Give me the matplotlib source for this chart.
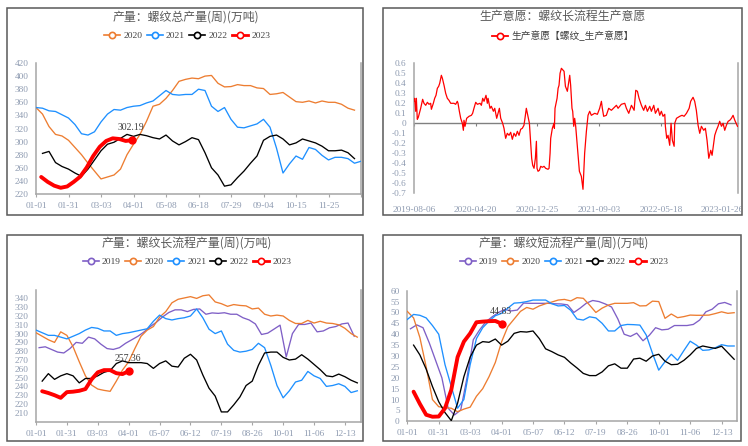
import numpy as np
import matplotlib
matplotlib.use('Agg')
import matplotlib.pyplot as plt
from matplotlib.lines import Line2D
from matplotlib.patches import Rectangle
from matplotlib.transforms import Bbox, TransformedBbox

plt.rcParams['font.family'] = ['Liberation Serif', 'Noto Sans CJK SC', 'DejaVu Sans']
CJK = ['Noto Sans CJK SC', 'DejaVu Sans']

W, H = 748, 446
fig = plt.figure(figsize=(W / 100, H / 100), dpi=100)
fig.patch.set_facecolor('white')

C19, C20, C21, C22, C23 = '#7f5fc6', '#ed7d31', '#1e90ff', '#000000', '#ff0000'
TICK = '#8d9ab0'
SPINE = '#a6a6a6'
TITLE = '#595959'
LEG = '#404040'

# ---------------- data: panel 1 (螺纹总产量) ----------------
p1_title = '产量：螺纹总产量(周)(万吨)'
p1_xlabels = ['01-01', '01-31', '03-03', '04-01', '05-08', '06-18', '07-29', '09-04', '10-15', '11-25', '']
p1_years = ['2020', '2021', '2022', '2023']
p1_2020 = [352, 342, 323, 311, 308.6, 302, 291, 280, 267, 255,
           243, 246, 249, 258, 280, 296, 311, 331, 354, 357,
           366, 378, 392, 395, 397, 396, 400, 401, 389, 383.5,
           384, 387, 385.5, 385.5, 382, 381, 372, 373, 375, 368,
           361, 360, 362, 359, 362, 360, 360, 357, 351, 348]
p1_2021 = [352, 351, 347, 346, 341, 336, 326, 312, 310, 315,
           330, 342, 349, 348, 352, 354, 355, 359, 362, 370,
           378, 372, 371, 372, 372, 380, 378, 354, 346, 352,
           334, 322, 321, 324, 327, 334, 322, 290, 252, 266,
           278, 273, 291, 288, 279, 272, 276, 276, 274, 267, 270]
p1_2022 = [282, 285, 268, 262, 258, 252, 247, 258, 272, 286,
           296, 299, 305, 311, 308, 311, 309, 306, 304, 310,
           301, 295, 300, 306, 303, 283, 260, 249, 232, 234,
           245, 255, 267, 278, 302, 308, 310, 304, 295, 298,
           304, 301, 298, 293, 286, 286, 287, 283, 274]
p1_2023 = [246, 238.5, 232.7, 229.5, 231.5, 238.5, 246.5, 260.5, 278, 292,
           301, 305, 304, 301, 302.19]
p1_start = {'2020': 0, '2021': 0, '2022': 1, '2023': 0.8}

# ---------------- data: panel 2 (生产意愿) ----------------
p2_title = '生产意愿：螺纹长流程生产意愿'
p2_label = '生产意愿【螺纹_生产意愿】'
p2_xlabels = ['2019-08-06', '2020-04-20', '2020-12-25', '2021-09-03', '2022-05-18', '2023-01-26']
p2_points = [
    (0, 0.22), (0.65, 0.25), (1.6, 0.12), (2.3, 0.25), (3.2, 0.04), (4.2, 0.06), (5.2, 0.10),
    (6.5, 0.15), (7.5, 0.20), (8.4, 0.24), (9.7, 0.20), (11.4, 0.18), (13.0, 0.21), (14.6, 0.19),
    (16.2, 0.20), (16.9, 0.14), (18.8, 0.20), (20.1, 0.25), (21.4, 0.28), (22.7, 0.35), (24.0, 0.37),
    (25.0, 0.40), (26.6, 0.48), (27.6, 0.45), (29.2, 0.38), (30.8, 0.30), (32.4, 0.25), (34.0, 0.23),
    (35.7, 0.20), (38.9, 0.20), (40.5, 0.19), (42.1, 0.22), (42.8, 0.20), (44.1, 0.12), (45.4, 0.05),
    (47.0, 0.00), (48.0, -0.07), (48.6, 0.03), (49.6, -0.03), (51.2, 0.05), (53.5, 0.07), (55.8, 0.08),
    (57.0, 0.10), (58.3, 0.15), (60.0, 0.21), (61.6, 0.19), (64.2, 0.20), (65.5, 0.18), (66.8, 0.25),
    (68.1, 0.22), (70.0, 0.28), (71.3, 0.20), (72.0, 0.25), (73.9, 0.15), (75.2, 0.17), (77.2, 0.12),
    (78.5, 0.15), (80.4, 0.05), (81.7, 0.10), (83.0, 0.15), (84.3, 0.05), (86.2, 0.00), (87.5, -0.05),
    (89.1, -0.15), (90.7, -0.10), (92.4, -0.12), (94.0, -0.09), (95.6, -0.16), (97.2, -0.10),
    (98.9, -0.13), (100.5, -0.08), (102.1, -0.12), (103.7, -0.06), (105.3, -0.05), (106.9, -0.02),
    (107.9, 0.05), (109.2, 0.15), (110.2, 0.10), (111.2, 0.05), (112.2, 0.00), (112.8, -0.10),
    (113.5, -0.20), (114.4, -0.35), (115.4, -0.42), (116.7, -0.45), (118.0, -0.35), (119.0, -0.18),
    (119.6, -0.45), (120.6, -0.48), (121.9, -0.47), (123.2, -0.43), (124.8, -0.44), (126.4, -0.43),
    (128.0, -0.45), (130.3, -0.46), (131.3, -0.45), (132.3, -0.30), (132.9, -0.15), (134.5, -0.05),
    (136.1, 0.00), (136.5, -0.05), (137.1, 0.15), (138.1, 0.20), (139.1, 0.25), (140.1, 0.35),
    (141.0, 0.38), (142.0, 0.50), (143.3, 0.55), (145.9, 0.52), (147.2, 0.37), (149.1, 0.32),
    (151.4, 0.48), (152.3, 0.38), (153.6, 0.15), (154.3, 0.12), (155.3, -0.03), (156.2, 0.05),
    (157.2, -0.03), (159.5, -0.32), (160.8, -0.48), (162.7, -0.53), (164.3, -0.66), (165.9, -0.30),
    (167.6, -0.08), (169.2, 0.08), (170.8, 0.12), (172.4, 0.08), (175.7, 0.10), (178.3, 0.09),
    (180.5, 0.15), (182.2, 0.22), (183.1, 0.15), (184.4, 0.07), (187.0, 0.08), (189.3, 0.15),
    (191.9, 0.13), (196.8, 0.18), (198.4, 0.15), (201.6, 0.19), (204.9, 0.20), (206.5, 0.15),
    (208.8, 0.10), (211.4, 0.18), (214.0, 0.13), (215.6, 0.33), (217.2, 0.32), (218.8, 0.25),
    (221.1, 0.18), (223.3, 0.13), (225.0, 0.18), (226.9, 0.12), (229.2, 0.17), (230.8, 0.12),
    (233.1, 0.18), (234.7, 0.10), (237.3, 0.15), (238.9, 0.08), (240.5, 0.12), (242.1, 0.07),
    (243.8, 0.09), (244.4, -0.03), (245.7, -0.15), (247.0, -0.12), (248.6, -0.22), (249.9, 0.00),
    (251.2, -0.17), (252.9, -0.23), (253.5, 0.00), (255.2, 0.05), (258.4, 0.07), (260.6, 0.08),
    (262.6, 0.07), (264.9, 0.10), (267.5, 0.15), (269.0, 0.22), (271.3, 0.26), (272.9, 0.22),
    (274.5, 0.13), (276.2, -0.02), (277.8, -0.10), (279.4, -0.03), (281.7, -0.07), (283.3, -0.05),
    (284.9, -0.17), (286.6, -0.35), (288.5, -0.27), (289.8, -0.32), (291.1, -0.22), (292.4, -0.12),
    (294.0, -0.07), (295.6, -0.03), (297.2, 0.02), (298.9, -0.03), (300.5, 0.00), (302.1, -0.07),
    (303.7, -0.02), (305.4, 0.02), (307.0, 0.03), (308.6, 0.05), (310.2, 0.08), (311.9, 0.03),
    (314.5, -0.03)]

# ---------------- data: panel 3 (螺纹长流程产量) ----------------
p3_title = '产量：螺纹长流程产量(周)(万吨)'
p34_xlabels = ['01-01', '01-31', '03-03', '04-01', '05-07', '06-12', '07-19', '08-26', '10-01', '11-06', '12-13']
p34_years = ['2019', '2020', '2021', '2022', '2023']
p3_2019 = [284, 285, 282, 279, 278, 283, 290, 289, 296, 294,
           288, 283, 282, 284, 289, 293, 297, 302, 308, 313,
           319, 324, 327, 327, 325, 327.5, 328, 322, 323.5, 323,
           323.7, 322, 322, 318, 315.5, 311, 299, 300.5, 305, 309.6,
           273.5, 300, 310.4, 310.4, 312, 302, 303, 306.6, 308, 311, 312, 297]
p3_2020 = [301, 297, 293, 290, 302, 298, 285, 268, 252, 241.5,
           237, 235.5, 234.4, 246, 258.6, 268, 283, 297, 304, 308,
           318.7, 325, 335, 339, 340.5, 342, 340, 343, 344, 336,
           334, 331, 333, 332, 331.5, 328, 329, 322, 320, 321,
           320, 315, 311.5, 311.5, 315, 312, 314, 312, 311.5, 310, 306, 300, 296]
p3_2021 = [304, 301, 298, 298, 296, 294, 297, 300, 304, 307,
           306, 303, 303, 298, 300, 301, 302.5, 304, 305.5, 314,
           321, 317, 315.5, 317, 318, 320, 328, 318, 305, 300,
           303, 288, 281, 279, 280, 282, 289, 284, 264, 241,
           227, 235, 245, 247, 257, 252, 249, 240, 241, 243, 240, 233, 235]
p3_2022 = [246, 254.5, 248, 252, 254.5, 252, 244, 249, 249, 252,
           256, 258, 266, 269, 267, 267, 267, 266, 260.5, 266,
           269, 263, 262, 272, 276.5, 270, 253, 238, 229, 211,
           211, 219, 228, 241, 246, 264, 278, 279, 279, 273,
           270, 271, 276, 271, 265, 259, 252, 251, 254, 251, 247, 244]
p3_2023 = [234.5, 232.5, 230, 227, 233.5, 234, 235, 237, 248, 256,
           258.5, 258.5, 255, 254, 257.36]

# ---------------- data: panel 4 (螺纹短流程产量) ----------------
p4_title = '产量：螺纹短流程产量(周)(万吨)'
p4_2019 = [42.5, 44.3, 43, 36, 28, 20, 6, 2.9, 5.2, 20,
           37.5, 42, 45.7, 48, 50, 51.4, 50.7, 51.1, 54.3, 54.2,
           54.2, 54.2, 54.2, 54, 53.9, 53.5, 50, 52, 54.3, 55.5,
           55, 53.9, 52.5, 47, 40, 39, 40.5, 37, 39.5, 43,
           42, 42.3, 44, 44, 44, 44.5, 46.5, 50.3, 51.5, 54, 54.6, 53.5]
p4_2020 = [50.5, 47.5, 38.5, 25, 10, 6.7, 6.3, 6, 4.4, 5.6,
           6.5, 11.5, 15, 20.5, 27, 36.5, 43.5, 47, 50.5, 52.3,
           51.5, 53, 54, 54.8, 55.7, 56, 55.3, 56.8, 56.5, 53.4,
           50, 52, 53.4, 54.2, 54.2, 54.2, 54.5, 53, 53.1, 55.2,
           55, 47.3, 49.3, 47.6, 48.1, 48.8, 48.7, 48.7, 48.8, 49.5, 50.3, 49.6, 49.9]
p4_2021 = [46.8, 49.1, 48.7, 47.5, 44, 40, 26, 16, 6, 10,
           26, 38, 43, 46, 48.5, 49.6, 52, 54.3, 54.5, 55,
           55.7, 55.7, 55.7, 54, 53, 53.2, 51, 47, 46.5, 48,
           47.5, 45, 41.5, 41.5, 44, 44.5, 44.4, 44.2, 39.7, 31.3,
           23.5, 27.4, 30.8, 28, 32.5, 36.8, 35, 32.6, 32.8, 33.8, 35.2, 34.6, 34.6]
p4_2022 = [35, 30.5, 24, 16, 9, 4, 0.3, 8.3, 20.5, 29.5,
           35, 36.6, 36.3, 37.8, 35, 36.8, 40.4, 41.2, 41, 41.5,
           38, 33.3, 32, 30.5, 29.4, 26.8, 24.5, 22, 21, 21,
           22.7, 25.5, 26.4, 24.4, 24.4, 28.6, 29, 27.6, 30, 30.8,
           27.6, 26, 26.2, 28, 30.5, 33.5, 34.6, 34, 33.5, 34.5, 31.5, 28.5]
p4_2023 = [13.6, 8, 3, 2.1, 2.2, 6, 14.5, 29.5, 36.6, 40.4,
           45.5, 45.8, 46, 46.1, 44.83]
p34_start = {'2019': 0.5, '2020': 0, '2021': 0, '2022': 1, '2023': 1}

COLORS = {'2019': C19, '2020': C20, '2021': C21, '2022': C22, '2023': C23}


def px_ax(l, r, t, b):
    return fig.add_axes([l / W, 1 - b / H, (r - l) / W, (b - t) / H])


def frame(l, t, r, b):
    fig.add_artist(Rectangle((l / W, 1 - b / H), (r - l) / W, (b - t) / H,
                             transform=fig.transFigure, fill=False,
                             ec='#595959', lw=1.1, zorder=0))


def style(ax):
    ax.set_facecolor('none')
    ax.spines['top'].set_visible(False)
    for s in ['left', 'right', 'bottom']:
        ax.spines[s].set_color(SPINE)
        ax.spines[s].set_linewidth(1.1)
    ax.tick_params(axis='y', length=0, pad=5.5, labelsize=6.7, labelcolor=TICK)
    ax.tick_params(axis='x', length=2.2, width=0.8, color=SPINE, pad=3.5,
                   labelsize=6.7, labelcolor=TICK, direction='out')


def title(x, y, s):
    fig.text(x / W, 1 - y / H, s, ha='center', va='center', fontsize=8.6,
             color=TITLE, family=CJK)


def year_legend(x, y, years):
    hs = []
    for yr in years:
        c = COLORS[yr]
        hs.append(Line2D([0], [0], color=c, lw=2.0 if yr == '2023' else 1.2,
                         marker='o', ms=4.5, mfc='white', mec=c, mew=1.2))
    fig.legend(hs, years, loc='center', bbox_to_anchor=(x / W, 1 - y / H), ncol=len(years),
               frameon=False, fontsize=6.8, handlelength=1.7, handletextpad=0.35,
               columnspacing=0.45, borderpad=0, borderaxespad=0, labelcolor=LEG)


def plot_years(ax, series, starts):
    for yr, vals in series:
        x = starts[yr] + np.arange(len(vals))
        if yr == '2023':
            ax.plot(x, vals, color=C23, lw=2.8, zorder=5, solid_capstyle='round')
            ax.plot(x[-1], vals[-1], 'o', color=C23, ms=5, zorder=6)
            ax.annotate(f'{vals[-1]:.2f}', xy=(x[-1], vals[-1]), xytext=(-0.7, 9),
                        textcoords='offset points', ha='center', va='center',
                        fontsize=7, color=LEG, zorder=7)
        else:
            ax.plot(x, vals, color=COLORS[yr], lw=0.95, zorder=3)


# ---------------- panel 1 ----------------
frame(7, 8, 363, 215)
ax1 = px_ax(36, 361, 63, 194)
plot_years(ax1, [('2020', p1_2020), ('2021', p1_2021), ('2022', p1_2022), ('2023', p1_2023)], p1_start)
ax1.set_xlim(0, 50)
ax1.set_ylim(220, 420)
ax1.set_yticks(np.arange(220, 421, 20))
ax1.set_xticks(np.arange(0, 51, 5))
ax1.set_xticklabels(p1_xlabels)
style(ax1)
title(186, 17, p1_title)
year_legend(187, 36, p1_years)

# ---------------- panel 2 ----------------
frame(383, 8, 742, 215)
ax2 = px_ax(414, 738, 63.3, 193.3)
p2_x = [p[0] for p in p2_points]
p2_v = [p[1] for p in p2_points]
ax2.plot(p2_x, p2_v, color='#ff0000', lw=0.9, zorder=4)
ax2.set_xlim(0, 315)
ax2.set_ylim(-0.7, 0.6)
yt = np.round(np.arange(-0.7, 0.61, 0.1), 1)
ax2.set_yticks(yt)
ax2.set_yticklabels(['0' if abs(v) < 1e-9 else f'{v:.1f}' for v in yt])
ax2.set_xticks(np.arange(0, 301, 60))
ax2.set_xticklabels(p2_xlabels)
style(ax2)
ax2.spines['bottom'].set_visible(False)
ax2.tick_params(axis='x', length=0, pad=9.5)
sec = ax2.secondary_xaxis(0.7 / 1.3)
sec.set_alignment('bottom')
sec.set_xticks(np.arange(0, 301, 60))
sec.tick_params(axis='x', length=2.5, width=0.8, color='#808080', labelbottom=False,
                labeltop=False, direction='out')
for s in sec.spines.values():
    s.set_color('#808080')
    s.set_linewidth(1.0)
title(563, 16, p2_title)
h2 = Line2D([0], [0], color='#ff0000', lw=1.3, marker='o', ms=4.5, mfc='white', mec='#ff0000', mew=1.2)
fig.legend([h2], [p2_label], loc='center', bbox_to_anchor=(563 / W, 1 - 36 / H), frameon=False,
           prop={'family': CJK, 'size': 7}, handlelength=1.7, handletextpad=0.35,
           borderpad=0, borderaxespad=0, labelcolor=LEG)
clip = TransformedBbox(Bbox.from_extents(0, 0, 741 / W, 1), fig.transFigure)
for lbl in ax2.get_xticklabels():
    lbl.set_clip_on(True)
    lbl.set_clip_box(clip)

# ---------------- panel 3 ----------------
frame(7, 235, 363, 441)
ax3 = px_ax(36, 361, 289.6, 421.6)
plot_years(ax3, [('2019', p3_2019), ('2020', p3_2020), ('2021', p3_2021), ('2022', p3_2022),
                 ('2023', p3_2023)], p34_start)
ax3.set_xlim(0, 52.6)
ax3.set_ylim(200, 350)
ax3.set_yticks(np.arange(210, 341, 10))
ax3.set_xticks(np.arange(0, 51, 5))
ax3.set_xticklabels(p34_xlabels)
style(ax3)
title(187, 243.5, p3_title)
year_legend(187, 262, p34_years)

# ---------------- panel 4 ----------------
frame(383, 235, 741, 441)
ax4 = px_ax(407.3, 737.3, 290.7, 421.3)
plot_years(ax4, [('2019', p4_2019), ('2020', p4_2020), ('2021', p4_2021), ('2022', p4_2022),
                 ('2023', p4_2023)], p34_start)
ax4.set_xlim(0, 52.5)
ax4.set_ylim(0, 60)
ax4.set_yticks(np.arange(0, 61, 5))
ax4.set_xticks(np.arange(0, 51, 5))
ax4.set_xticklabels(p34_xlabels)
style(ax4)
title(563.5, 243.5, p4_title)
year_legend(564, 262, p34_years)

fig.savefig('out.png', dpi=100, facecolor='white')
